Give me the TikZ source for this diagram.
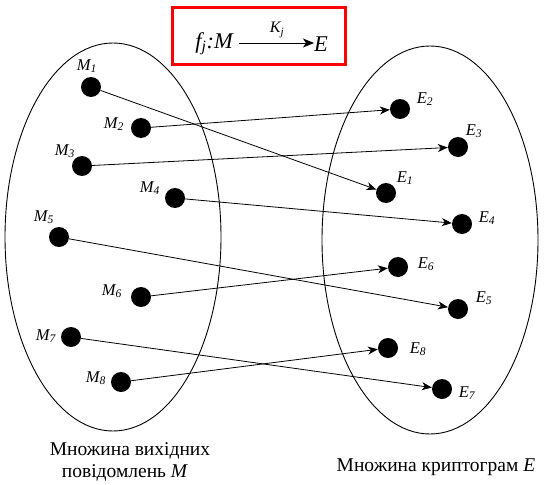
\documentclass[tikz,border=0pt]{standalone}
\usepackage{fontspec}
\setmainfont{Liberation Serif}
\usetikzlibrary{arrows.meta}
\begin{document}
\begin{tikzpicture}[x=1pt,y=-1pt,
 dot/.style={circle,fill=black,inner sep=0pt,minimum size=20pt},
 lbl/.style={font=\fontsize{16.5}{17}\selectfont\itshape,inner sep=0pt},
 conn/.style={line width=0.8pt,-{Stealth[length=10pt,width=8pt,inset=3pt]}},
 setline/.style={line width=0.9pt},
 captext/.style={font=\fontsize{19.5}{20}\selectfont,inner sep=0pt,anchor=base}]
\useasboundingbox (0,0) rectangle (548,484);
% sets
\draw[setline] (113,237) ellipse [x radius=108, y radius=194];
\draw[setline] (430,240) ellipse [x radius=108, y radius=194];
% formula box
\draw[red,line width=3pt] (172,8) rectangle (345,65);
\node[inner sep=0pt,font=\fontsize{22.5}{23}\selectfont\itshape,anchor=east] (fm) at (233,44) {f\textsubscript{j}:M};
\node[inner sep=0pt,font=\fontsize{22.5}{23}\selectfont\itshape,anchor=west] (fe) at (314,44) {E};
\draw[line width=0.9pt,-{Stealth[length=11pt,width=9pt,inset=3pt]}] (fm.east) ++(6,-1) coordinate (fa) -- (fe.west |- fa);
\node[inner sep=0pt,font=\fontsize{16}{17}\selectfont\itshape] (kj) at (277,30) {K\textsubscript{j}};
% M dots
\node[dot] (m1) at (91,87) {};
\node[dot] (m2) at (141,128) {};
\node[dot] (m3) at (82,166) {};
\node[dot] (m4) at (175,198) {};
\node[dot] (m5) at (59,237) {};
\node[dot] (m6) at (141,297) {};
\node[dot] (m7) at (71,337) {};
\node[dot] (m8) at (121,382) {};
% E dots
\node[dot] (e1) at (386,193) {};
\node[dot] (e2) at (400,109) {};
\node[dot] (e3) at (458,147) {};
\node[dot] (e4) at (462,224) {};
\node[dot] (e5) at (458,309) {};
\node[dot] (e6) at (398,267) {};
\node[dot] (e7) at (442,389) {};
\node[dot] (e8) at (388,348) {};
% labels
\node[lbl] (lm1) at (87,66) {M\textsubscript{1}};
\node[lbl] (lm2) at (114,124) {M\textsubscript{2}};
\node[lbl] (lm3) at (65,151) {M\textsubscript{3}};
\node[lbl] (lm4) at (150,188) {M\textsubscript{4}};
\node[lbl] (lm5) at (44,217) {M\textsubscript{5}};
\node[lbl] (lm6) at (112,291) {M\textsubscript{6}};
\node[lbl] (lm7) at (46,336) {M\textsubscript{7}};
\node[lbl] (lm8) at (96,378) {M\textsubscript{8}};
\node[lbl] (le1) at (405,178) {E\textsubscript{1}};
\node[lbl] (le2) at (425,99) {E\textsubscript{2}};
\node[lbl] (le3) at (474,131) {E\textsubscript{3}};
\node[lbl] (le4) at (487,218) {E\textsubscript{4}};
\node[lbl] (le5) at (484,298) {E\textsubscript{5}};
\node[lbl] (le6) at (426,264) {E\textsubscript{6}};
\node[lbl] (le7) at (467,393) {E\textsubscript{7}};
\node[lbl] (le8) at (418,349) {E\textsubscript{8}};
% connectors
\foreach \i in {1,...,8} \draw[conn] (m\i) -- (e\i);
% captions
\node[captext] (capm1) at (130,455) {Множина вихідних};
\node[captext] (capm2) at (125,477) {повідомлень \textit{M}};
\node[captext] (cape) at (436,471) {Множина криптограм \textit{E}};
\end{tikzpicture}
\end{document}
